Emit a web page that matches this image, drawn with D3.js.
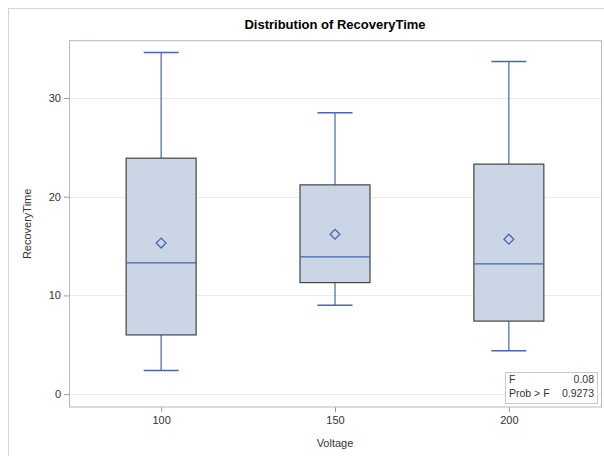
<!DOCTYPE html>
<html>
<head>
<meta charset="utf-8">
<script src="https://cdn.jsdelivr.net/npm/d3@7"></script>
<style>
  body { margin: 0; background: #fff; }
  text { font-family: "Liberation Sans", Arial, sans-serif; }
</style>
</head>
<body>
<svg id="chart" width="604" height="456"></svg>
<script>
// box plot values
var voltages = ["100", "150", "200"];
var whiskerLow = [2.4, 9.0, 4.4];
var q1 = [6.0, 11.3, 7.4];
var median = [13.3, 13.9, 13.2];
var q3 = [23.9, 21.2, 23.3];
var whiskerHigh = [34.6, 28.5, 33.7];
var means = [15.3, 16.2, 15.7];
var yTicks = [0, 10, 20, 30];
var statLabels = ["F", "Prob > F"];
var statValues = ["0.08", "0.9273"];

var svg = d3.select("svg#chart");

var plotLeft = 69, plotRight = 601, plotTop = 40.7, plotBottom = 407;

var boxes = voltages.map(function(v, i) {
  return { v: v, lo: whiskerLow[i], q1: q1[i], med: median[i], q3: q3[i], hi: whiskerHigh[i], mean: means[i] };
});

var x = d3.scalePoint().domain(voltages).range([plotLeft, plotRight]).padding(0.53);
var y = d3.scaleLinear().domain([-1.3, 35.8]).range([plotBottom, plotTop]);

var boxW = 70, capW = 35;
var blue = "#4565b5";

// outer frame (only top / left visible in the picture)
svg.append("rect")
  .attr("x", 8.5).attr("y", 8.5)
  .attr("width", 640).attr("height", 500)
  .attr("fill", "none").attr("stroke", "#d4d4d4");

// gridlines
svg.append("g").selectAll("line")
  .data(yTicks).enter().append("line")
  .attr("x1", plotLeft).attr("x2", plotRight)
  .attr("y1", function(d) { return Math.round(y(d)) + 0.5; })
  .attr("y2", function(d) { return Math.round(y(d)) + 0.5; })
  .attr("stroke", "#ebebeb");

// y axis
var yAxis = svg.append("g")
  .attr("transform", "translate(" + plotLeft + ",0)")
  .call(d3.axisLeft(y).tickValues(yTicks).tickSize(5).tickPadding(3));
yAxis.select(".domain").remove();
yAxis.selectAll("line").attr("stroke", "#9a9a9a");
yAxis.selectAll("text").attr("fill", "#333").style("font-size", "11px");

// x axis
var xAxis = svg.append("g")
  .attr("transform", "translate(0," + plotBottom + ")")
  .call(d3.axisBottom(x).tickSize(5).tickPadding(4));
xAxis.select(".domain").remove();
xAxis.selectAll("line").attr("stroke", "#9a9a9a");
xAxis.selectAll("text").attr("fill", "#333").style("font-size", "11px");

// whiskers
var g = svg.append("g");
g.selectAll("line.whisk").data(boxes).enter().append("line")
  .attr("class", "whisk")
  .attr("x1", function(d) { return x(d.v); }).attr("x2", function(d) { return x(d.v); })
  .attr("y1", function(d) { return y(d.lo); }).attr("y2", function(d) { return y(d.hi); })
  .attr("stroke", blue).attr("stroke-width", 1.2);

["lo", "hi"].forEach(function(k) {
  g.selectAll("line.cap-" + k).data(boxes).enter().append("line")
    .attr("class", "cap-" + k)
    .attr("x1", function(d) { return x(d.v) - capW / 2; })
    .attr("x2", function(d) { return x(d.v) + capW / 2; })
    .attr("y1", function(d) { return y(d[k]); })
    .attr("y2", function(d) { return y(d[k]); })
    .attr("stroke", blue).attr("stroke-width", 1.5);
});

// boxes
g.selectAll("rect.box").data(boxes).enter().append("rect")
  .attr("class", "box")
  .attr("x", function(d) { return x(d.v) - boxW / 2; })
  .attr("width", boxW)
  .attr("y", function(d) { return y(d.q3); })
  .attr("height", function(d) { return y(d.q1) - y(d.q3); })
  .attr("fill", "#cad5e5").attr("stroke", "#444").attr("stroke-width", 1.2);

// medians
g.selectAll("line.med").data(boxes).enter().append("line")
  .attr("class", "med")
  .attr("x1", function(d) { return x(d.v) - boxW / 2; })
  .attr("x2", function(d) { return x(d.v) + boxW / 2; })
  .attr("y1", function(d) { return y(d.med); })
  .attr("y2", function(d) { return y(d.med); })
  .attr("stroke", blue).attr("stroke-width", 1.2);

// means (diamonds)
g.selectAll("path.mean").data(boxes).enter().append("path")
  .attr("class", "mean")
  .attr("d", d3.symbol().type(d3.symbolSquare).size(48))
  .attr("transform", function(d) { return "translate(" + x(d.v) + "," + y(d.mean) + ") rotate(45)"; })
  .attr("fill", "none").attr("stroke", blue).attr("stroke-width", 1.3);

// plot frame
svg.append("rect")
  .attr("x", plotLeft + 0.5).attr("y", plotTop)
  .attr("width", plotRight - plotLeft).attr("height", plotBottom - plotTop)
  .attr("fill", "none").attr("stroke", "#b4b9bd");

// stats inset
var inset = svg.append("g");
inset.append("rect")
  .attr("x", 505.5).attr("y", 372.5).attr("width", 92).attr("height", 31)
  .attr("fill", "#fff").attr("stroke", "#c8c8c8");
statLabels.forEach(function(s, i) {
  inset.append("text").attr("x", 509).attr("y", 383 + i * 14)
    .attr("fill", "#333").style("font-size", "10.5px").text(s);
  inset.append("text").attr("x", 594).attr("y", 383 + i * 14)
    .attr("text-anchor", "end").attr("fill", "#333").style("font-size", "10.5px").text(statValues[i]);
});

// titles
svg.append("text")
  .attr("x", (plotLeft + plotRight) / 2).attr("y", 29)
  .attr("text-anchor", "middle")
  .style("font-size", "13px").style("font-weight", "bold").attr("fill", "#000")
  .text("Distribution of RecoveryTime");

svg.append("text")
  .attr("x", (plotLeft + plotRight) / 2).attr("y", 447)
  .attr("text-anchor", "middle")
  .style("font-size", "11px").attr("fill", "#333")
  .text("Voltage");

svg.append("text")
  .attr("transform", "translate(31," + ((plotTop + plotBottom) / 2) + ") rotate(-90)")
  .attr("text-anchor", "middle")
  .style("font-size", "11px").attr("fill", "#333")
  .text("RecoveryTime");
</script>
</body>
</html>
